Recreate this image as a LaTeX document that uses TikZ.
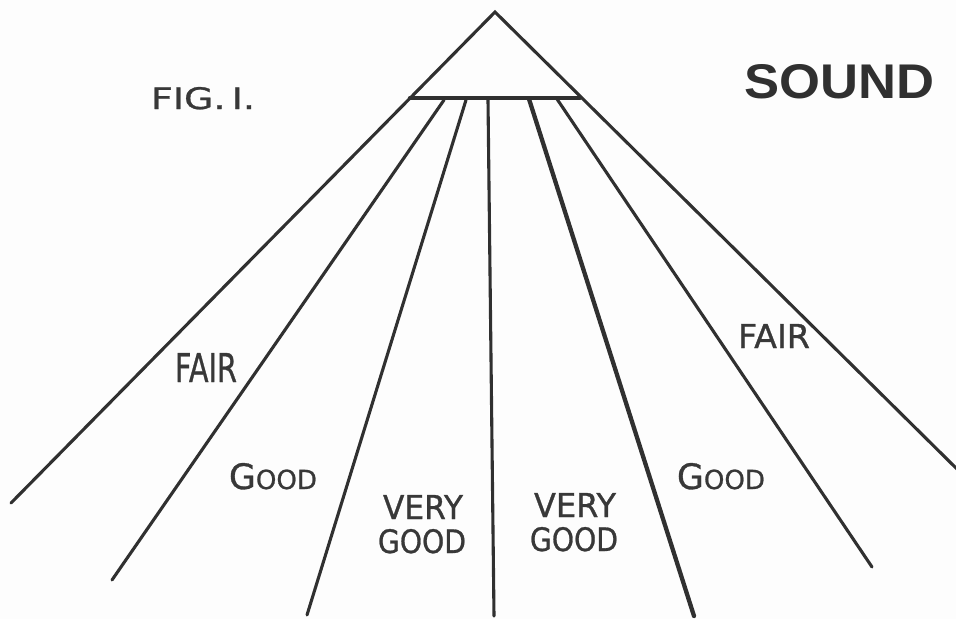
\documentclass[tikz,border=0pt]{standalone}
\usepackage{fontspec}
\setmainfont{Liberation Sans}
\newfontfamily\hand[FakeBold=0.9]{DejaVu Sans}
\definecolor{ink}{HTML}{303030}
\definecolor{txt}{HTML}{383838}
\definecolor{paper}{HTML}{FDFDFD}
\newcommand{\hwlabel}[3]{\resizebox{#1pt}{#2pt}{\hand #3}}
\begin{document}
\begin{tikzpicture}[x=1pt,y=-1pt,
  thinline/.style={draw=ink,line width=3.1pt,line cap=round},
  thickline/.style={draw=ink,line width=4.3pt,line cap=round},
  lbl/.style={inner sep=0pt,outer sep=0pt,anchor=north west,text=txt}]
\fill[paper] (0,0) rectangle (956,619);
\useasboundingbox (0,0) rectangle (956,619);
% key points
\coordinate (apex) at (495,12);
\coordinate (bl) at (410,98);
\coordinate (br) at (580,98);
\coordinate (e1) at (11,503);
\coordinate (e7) at (958,470);
\coordinate (s2) at (444,100);  \coordinate (e2) at (112,580);
\coordinate (s3) at (466,100);  \coordinate (e3) at (307,615);
\coordinate (s4) at (488,100);  \coordinate (e4) at (494,616);
\coordinate (s5) at (529,99);   \coordinate (e5) at (694,616);
\coordinate (s6) at (557,99);   \coordinate (e6) at (872,567);
% triangle and rays
\draw[thinline] (e1) -- (apex) -- (e7);
\draw[thickline] (bl) -- (br);
\draw[thinline] (s2) -- (e2);
\draw[thinline] (s3) -- (e3);
\draw[thinline] (s4) -- (e4);
\draw[thickline] (s5) -- (e5);
\draw[thinline] (s6) -- (e6);
% labels
\node[lbl] (fig) at (151,87) {\hwlabel{104}{22}{FIG.\,I.}};
\node[lbl,text=ink] (sound) at (744,64) {\resizebox{190pt}{34pt}{\bfseries SOUND}};
\node[lbl] (fairL) at (175,353) {\hwlabel{62}{29}{FAIR}};
\node[lbl] (goodL) at (229,463) {\hwlabel{88}{26}{G{\fontsize{7.5}{8}\selectfont OOD}}};
\node[lbl] (veryL) at (383,495) {\hwlabel{80}{24}{VERY}};
\node[lbl] (vgoodL) at (378,529) {\hwlabel{88}{24}{GOOD}};
\node[lbl] (veryR) at (534,493) {\hwlabel{82}{24}{VERY}};
\node[lbl] (vgoodR) at (530,527) {\hwlabel{88}{24}{GOOD}};
\node[lbl] (goodR) at (677,463) {\hwlabel{88}{26}{G{\fontsize{7.5}{8}\selectfont OOD}}};
\node[lbl] (fairR) at (738,324) {\hwlabel{72}{24}{FAIR}};
\end{tikzpicture}
\end{document}
